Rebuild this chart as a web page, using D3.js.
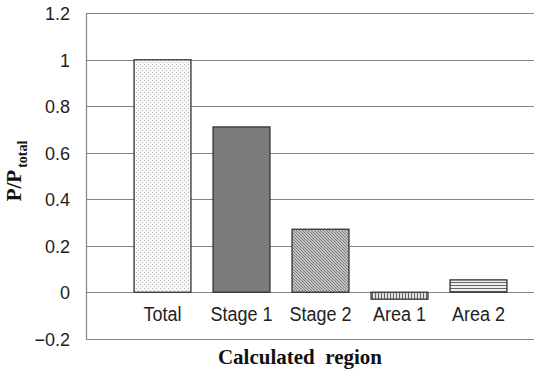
<!DOCTYPE html>
<html><head><meta charset="utf-8">
<script src="https://cdn.jsdelivr.net/npm/d3@7/dist/d3.min.js"></script>
<style>body{margin:0;background:#fff}svg{display:block}</style>
</head><body>
<svg id="c" width="534" height="370"></svg>
<script>
const categories = ["Total", "Stage 1", "Stage 2", "Area 1", "Area 2"];
const values = [1.0, 0.711, 0.271, -0.03, 0.053];
const yTicks = [-0.2, 0, 0.2, 0.4, 0.6, 0.8, 1, 1.2];
const yTickLabels = ["\u22120.2", "0", "0.2", "0.4", "0.6", "0.8", "1", "1.2"];
const fills = ["url(#pDots)", "#7b7b7b", "url(#pDiag)", "url(#pVert)", "url(#pHoriz)"];

const svg = d3.select("#c");
const defs = svg.append("defs");
let p = defs.append("pattern").attr("id","pDots").attr("patternUnits","userSpaceOnUse").attr("width",4).attr("height",4);
p.append("rect").attr("width",4).attr("height",4).attr("fill","#f6f6f6");
p.append("rect").attr("x",0).attr("y",0).attr("width",1).attr("height",1).attr("fill","#b8b8b8");
p.append("rect").attr("x",2).attr("y",2).attr("width",1).attr("height",1).attr("fill","#c8c8c8");
p = defs.append("pattern").attr("id","pDiag").attr("patternUnits","userSpaceOnUse").attr("width",3).attr("height",3);
p.append("rect").attr("width",3).attr("height",3).attr("fill","#c4c4c4");
p.append("path").attr("d","M-1,-1 L4,4").attr("stroke","#7a7a7a").attr("stroke-width",1);
p = defs.append("pattern").attr("id","pVert").attr("patternUnits","userSpaceOnUse").attr("width",3).attr("height",3);
p.append("rect").attr("width",3).attr("height",3).attr("fill","#e0e0e0");
p.append("rect").attr("x",0).attr("width",1).attr("height",3).attr("fill","#666");
p = defs.append("pattern").attr("id","pHoriz").attr("patternUnits","userSpaceOnUse").attr("width",3).attr("height",3);
p.append("rect").attr("width",3).attr("height",3).attr("fill","#f0f0f0");
p.append("rect").attr("y",0).attr("width",3).attr("height",1).attr("fill","#666");

const plotL = 86, plotR = 534;
const y = d3.scaleLinear().domain([-0.2, 1.2]).range([338.7, 13.3]);
const x = d3.scaleBand().domain(categories).range([123, 518]).paddingInner(0.28).paddingOuter(0.14);

svg.append("g").selectAll("line").data(yTicks).join("line")
  .attr("x1", plotL).attr("x2", plotR)
  .attr("y1", d => Math.round(y(d)) + 0.5).attr("y2", d => Math.round(y(d)) + 0.5)
  .attr("stroke", "#858585").attr("stroke-width", 1.2);

svg.append("line").attr("x1", plotL + 0.5).attr("x2", plotL + 0.5)
  .attr("y1", y(1.2)).attr("y2", y(-0.2)).attr("stroke", "#858585").attr("stroke-width", 1.2);

const ya = d3.axisLeft(y).tickValues(yTicks).tickSize(0).tickPadding(0)
  .tickFormat((d, i) => yTickLabels[i]);
const yg = svg.append("g").attr("transform", `translate(70,0)`).call(ya);
yg.select(".domain").remove();
yg.selectAll("text").attr("font-family", "Liberation Sans, Arial, sans-serif")
  .attr("font-size", 18).attr("fill", "#222").attr("dy", "0.36em");

svg.append("g").selectAll("rect").data(values).join("rect")
  .attr("x", (d, i) => x(categories[i]))
  .attr("width", x.bandwidth())
  .attr("y", d => y(Math.max(0, d)))
  .attr("height", d => Math.abs(y(d) - y(0)))
  .attr("fill", (d, i) => fills[i])
  .attr("stroke", "#333").attr("stroke-width", 1.3);

const xa = d3.axisBottom(x).tickSize(0).tickPadding(0);
const xg = svg.append("g").attr("transform", `translate(0,321)`).call(xa);
xg.select(".domain").remove();
xg.selectAll("text").attr("font-family", "Liberation Sans, Arial, sans-serif")
  .attr("font-size", 18).attr("fill", "#222").attr("dy", 0).attr("y", 0)
  .attr("transform", "scale(1,1.12)");

svg.append("text").attr("x", 300).attr("y", 364).attr("text-anchor", "middle")
  .attr("font-family", "Liberation Serif, Times New Roman, serif")
  .attr("font-weight", "bold").attr("font-size", 21).attr("fill", "#111")
  .attr("xml:space", "preserve").text("Calculated  region");

const yt = svg.append("text").attr("transform", "translate(21,171) rotate(-90)")
  .attr("text-anchor", "middle")
  .attr("font-family", "Liberation Serif, Times New Roman, serif")
  .attr("font-weight", "bold").attr("font-size", 21).attr("fill", "#111");
yt.append("tspan").text("P/P");
yt.append("tspan").attr("font-size", 14).attr("dy", 6).attr("dx", 2).text("total");
</script>
</body></html>
